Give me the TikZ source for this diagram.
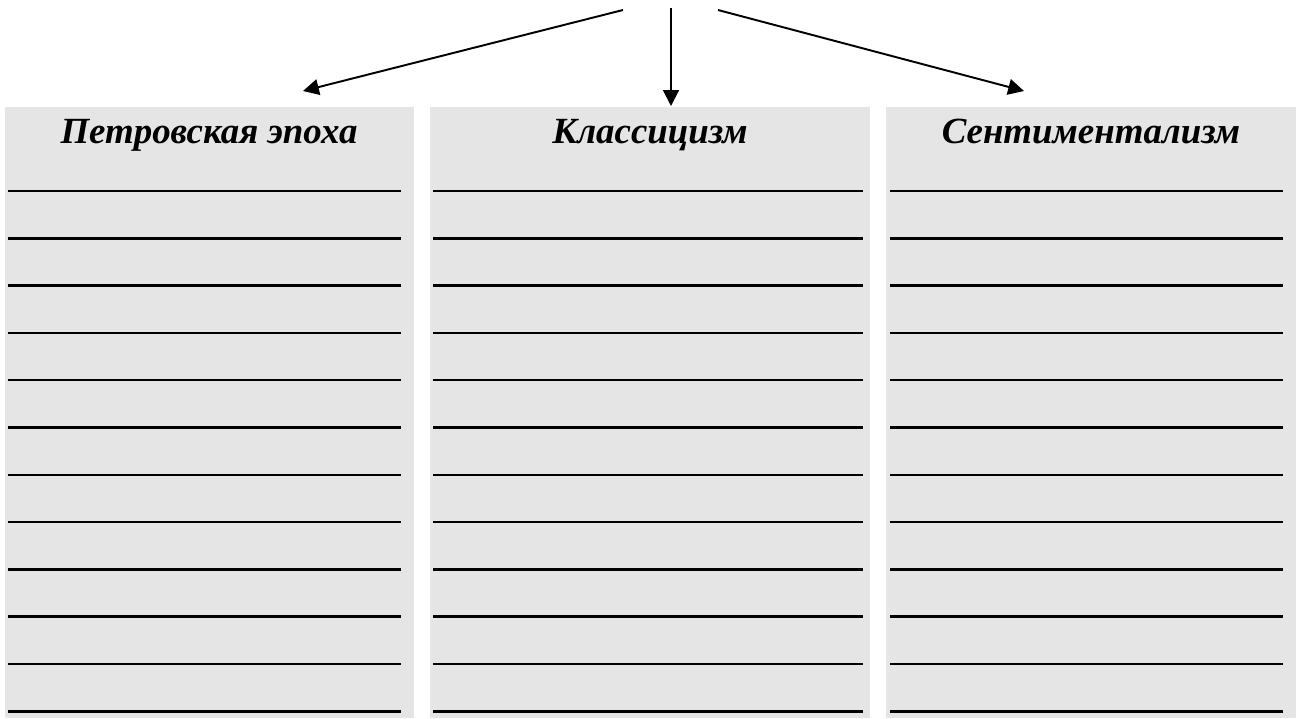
\documentclass[tikz,border=0pt]{standalone}
\usepackage{fontspec}
\setmainfont{Liberation Serif}
\usepackage{xcolor}
\usetikzlibrary{arrows.meta, positioning}
\definecolor{boxGray}{RGB}{229,229,229}

\begin{document}
\begin{tikzpicture}[
  x=0.02cm, y=-0.02cm,
  eraBox/.style={rectangle, fill=boxGray, inner sep=0pt, anchor=north west, minimum height=12.22cm},
  eraTitle/.style={font=\fontsize{21}{24}\selectfont\bfseries\itshape, anchor=base, inner sep=0pt},
  writeLine/.style={line width=1.4pt, black},
  pointer/.style={-{Triangle[length=9pt, width=9pt]}, line width=1.1pt}
]
\useasboundingbox (0,0) rectangle (1300,718);
% three columns
\node[eraBox, minimum width=8.18cm] (petrBox) at (5,107) {};
\node[eraBox, minimum width=8.8cm] (classBox) at (430,107) {};
\node[eraBox, minimum width=8.2cm] (sentBox) at (886,107) {};
\node[eraTitle] (petrTitle) at (209,143) {Петровская эпоха};
\node[eraTitle] (classTitle) at (650,143) {Классицизм};
\node[eraTitle] (sentTitle) at (1091,143) {Сентиментализм};
% blank lines to write on
\foreach \xa/\xb in {8/401, 433/863, 890/1283}
  \foreach \k in {0,...,11}
    \draw[writeLine] (\xa,191+47.3*\k) -- (\xb,191+47.3*\k);
% arrows from the top
\coordinate (srcL) at (623,10);
\coordinate (srcM) at (671,8);
\coordinate (srcR) at (718,10);
\coordinate (tipL) at (303,91);
\coordinate (tipM) at (671,106);
\coordinate (tipR) at (1024,91);
\draw[pointer] (srcL) -- (tipL);
\draw[pointer] (srcM) -- (tipM);
\draw[pointer] (srcR) -- (tipR);
\end{tikzpicture}
\end{document}
